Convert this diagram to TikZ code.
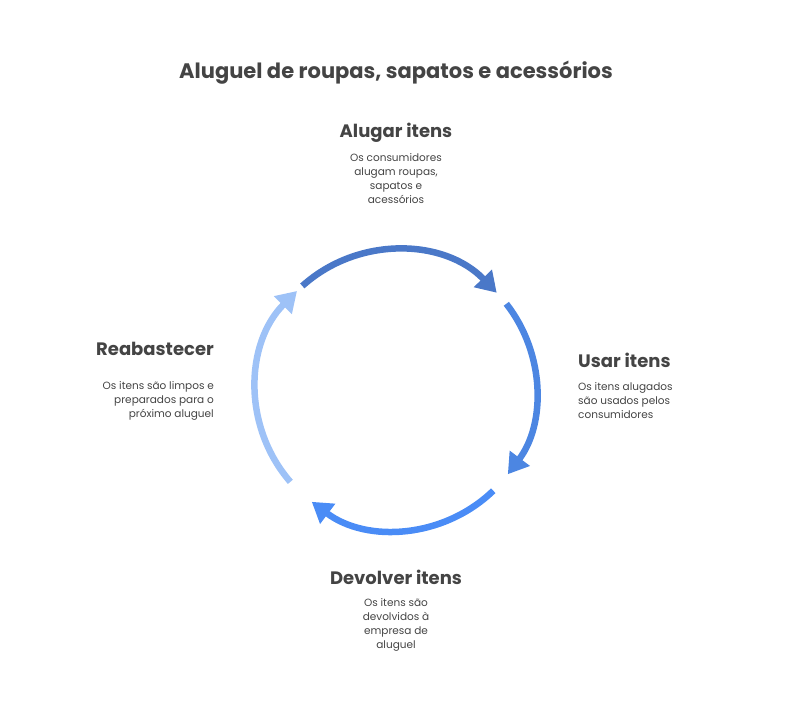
\documentclass[tikz,border=0pt]{standalone}
\usepackage{fontspec}
\setmainfont{Poppins}
\usetikzlibrary{arrows.meta}
\definecolor{txtGray}{HTML}{444444}
\definecolor{arcA}{HTML}{4A78C8}
\definecolor{arcB}{HTML}{4C86E2}
\definecolor{arcC}{HTML}{4A8CF6}
\definecolor{arcD}{HTML}{9EC2F7}
\tikzset{
  stepArc/.style={line width=6.5pt, -{Triangle[length=20pt,width=24pt]}},
  stepHead/.style={font=\bfseries\fontsize{18}{22}\selectfont, text=txtGray, inner sep=0pt},
  stepText/.style={font=\fontsize{10.5}{14.2}\selectfont, text=txtGray, inner sep=0pt}
}
\begin{document}
\begin{tikzpicture}[x=1pt, y=1pt]
		\useasboundingbox (0,0) rectangle (792,702);
		%%%%%%%%%%%%%
		\node[font=\bfseries\fontsize{21}{26}\selectfont, text=txtGray] (title) at (396, 629) {Aluguel de roupas, sapatos e acessórios};
		\node[stepHead] (h1) at (396, 569) {Alugar itens};
		\node[stepText, align=center, anchor=north] (t1) at (396, 549) {Os consumidores\\alugam roupas,\\sapatos e\\acessórios};
		\node[stepHead, anchor=west] (h2) at (578, 342) {Usar itens};
		\node[stepText, align=left, anchor=north west] (t2) at (578, 320) {Os itens alugados\\são usados pelos\\consumidores};
		\node[stepHead] (h3) at (396, 125) {Devolver itens};
		\node[stepText, align=center, anchor=north] (t3) at (396, 104) {Os itens são\\devolvidos à\\empresa de\\aluguel};
		\node[stepHead, anchor=east] (h4) at (214, 353) {Reabastecer};
		\node[stepText, align=right, anchor=north east] (t4) at (214, 321) {Os itens são limpos e\\preparados para o\\próximo aluguel};
		%%%%%%%%%%%%%
		\coordinate (c) at (396, 312);
		\draw[stepArc, arcA] ([shift={(132:140)}]c) arc (132:44:140);
		\draw[stepArc, arcB] ([shift={(38:140)}]c) arc (38:-37:140);
		\draw[stepArc, arcC] ([shift={(-46:140)}]c) arc (-46:-127:140);
		\draw[stepArc, arcD] ([shift={(-139:140)}]c) arc (-139:-225:140);
\end{tikzpicture}
\end{document}
